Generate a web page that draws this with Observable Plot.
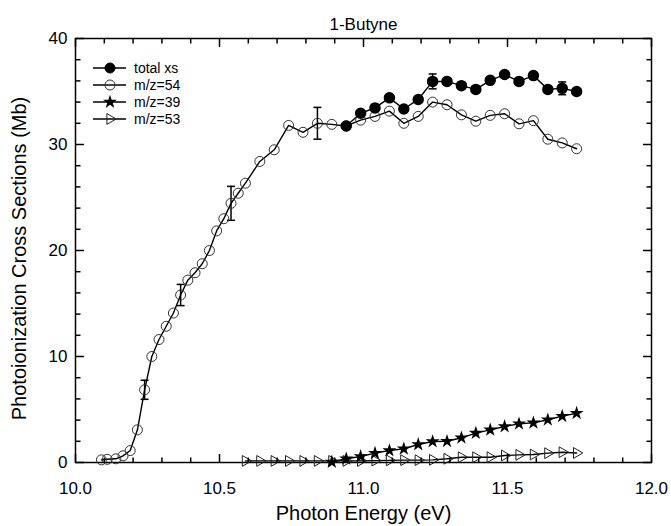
<!DOCTYPE html>
<html><head><meta charset="utf-8">
<script src="https://cdn.jsdelivr.net/npm/d3@7"></script>
<script src="https://cdn.jsdelivr.net/npm/@observablehq/plot@0.6"></script>
<style>body{margin:0;background:#fff;}</style>
</head><body><div id="chart"></div>
<script>
// ---- data ----
const energyMz54 = [10.09,10.11,10.14,10.165,10.19,10.215,10.24,10.265,10.29,10.315,10.34,10.365,10.39,10.415,10.44,10.465,10.49,10.515,10.54,10.565,10.59,10.64,10.69,10.74,10.79,10.84,10.89,10.94,10.99,11.04,11.09,11.14,11.19,11.24,11.29,11.34,11.39,11.44,11.49,11.54,11.59,11.64,11.69,11.74];
const valuesMz54 = [0.25,0.3,0.35,0.63,1.13,3.08,6.86,10.0,11.6,12.85,14.1,15.8,17.2,17.9,18.75,20.0,21.85,23.0,24.45,25.4,26.35,28.4,29.5,31.8,31.15,32.0,31.9,31.75,32.3,32.65,33.15,32.0,32.65,34.0,33.75,32.8,32.2,32.75,32.9,31.95,32.25,30.5,30.15,29.6];

const energyTotal = [10.94,10.99,11.04,11.09,11.14,11.19,11.24,11.29,11.34,11.39,11.44,11.49,11.54,11.59,11.64,11.69,11.74];
const valuesTotal = [31.75,32.95,33.45,34.4,33.35,34.25,35.95,35.95,35.55,35.2,36.05,36.6,35.95,36.5,35.2,35.3,35.0];

const energyMz39 = [10.89,10.94,10.99,11.04,11.09,11.14,11.19,11.24,11.29,11.34,11.39,11.44,11.49,11.54,11.59,11.64,11.69,11.74];
const valuesMz39 = [0.05,0.35,0.57,0.88,1.13,1.29,1.7,1.98,2.0,2.33,2.77,3.08,3.4,3.65,3.74,4.03,4.37,4.65];

const energyMz53 = [10.59,10.64,10.69,10.74,10.79,10.84,10.89,10.94,10.99,11.04,11.09,11.14,11.19,11.24,11.29,11.34,11.39,11.44,11.49,11.54,11.59,11.64,11.69,11.74];
const valuesMz53 = [0.15,0.15,0.15,0.15,0.15,0.15,0.15,0.15,0.15,0.18,0.2,0.22,0.22,0.25,0.35,0.5,0.5,0.5,0.66,0.72,0.75,0.88,0.97,0.9];

const errEnergyMz54 = [10.24,10.365,10.54,10.84];
const errValueMz54 = [6.86,15.8,24.45,32.0];
const errSizeMz54 = [0.9,1.0,1.6,1.5];
const errEnergyTotal = [11.24,11.69];
const errValueTotal = [35.95,35.3];
const errSizeTotal = [0.7,0.6];

const seriesNames = ["total xs","m/z=54","m/z=39","m/z=53"];
const xDomain = [10, 12];
const yDomain = [0, 40];
const xMajorTicks = [10.0,10.5,11.0,11.5,12.0];
const xMinorTicks = [10.1,10.2,10.3,10.4,10.6,10.7,10.8,10.9,11.1,11.2,11.3,11.4,11.6,11.7,11.8,11.9];
const yMajorTicks = [0,10,20,30,40];
const yMinorTicks = [2,4,6,8,12,14,16,18,22,24,26,28,32,34,36,38];
const titleText = "1-Butyne";
const xTitle = "Photon Energy (eV)";
const yTitle = "Photoionization Cross Sections (Mb)";

// ---- tables ----
const zip = (xs, ys) => xs.map((x, i) => ({x, y: ys[i]}));
const mz54 = zip(energyMz54, valuesMz54);
const total = zip(energyTotal, valuesTotal);
const mz39 = zip(energyMz39, valuesMz39);
const mz53 = zip(energyMz53, valuesMz53);
const errs = errEnergyMz54.map((x, i) => ({x, y1: errValueMz54[i] - errSizeMz54[i], y2: errValueMz54[i] + errSizeMz54[i]}))
  .concat(errEnergyTotal.map((x, i) => ({x, y1: errValueTotal[i] - errSizeTotal[i], y2: errValueTotal[i] + errSizeTotal[i]})));
const caps = errs.flatMap(d => [{x: d.x, y: d.y1}, {x: d.x, y: d.y2}]);

const hbar = {draw(ctx, size) { const w = 4; ctx.moveTo(-w, 0); ctx.lineTo(w, 0); }};
// tick glyphs: a short segment from the frame edge into the plot
const tickUp = len => ({draw(ctx) { ctx.moveTo(0, 0); ctx.lineTo(0, -len); }});
const tickDown = len => ({draw(ctx) { ctx.moveTo(0, 0); ctx.lineTo(0, len); }});
const tickRight = len => ({draw(ctx) { ctx.moveTo(0, 0); ctx.lineTo(len, 0); }});
const tickLeft = len => ({draw(ctx) { ctx.moveTo(0, 0); ctx.lineTo(-len, 0); }});

const FONT = "'Liberation Sans', Arial, Helvetica, sans-serif";
const lineW = 1.4;
const MAJ = 8.5, MIN = 5, TW = 1.5, TC = "#000";

function tickMarks(xs, ys, len) {
  const o = {stroke: TC, strokeWidth: TW, r: 4};
  return [
    Plot.dot(xs, {...o, x: d => d, y: () => yDomain[0], symbol: tickUp(len)}),
    Plot.dot(xs, {...o, x: d => d, y: () => yDomain[1], symbol: tickDown(len)}),
    Plot.dot(ys, {...o, y: d => d, x: () => xDomain[0], symbol: tickRight(len)}),
    Plot.dot(ys, {...o, y: d => d, x: () => xDomain[1], symbol: tickLeft(len)})
  ];
}

const chart = Plot.plot({
  width: 671,
  height: 526,
  marginLeft: 75,
  marginRight: 20,
  marginTop: 38,
  marginBottom: 64,
  style: {fontFamily: FONT, fontSize: "17px", color: "#000", background: "#fff"},
  x: {domain: xDomain},
  y: {domain: yDomain},
  marks: [
    Plot.axisX({ticks: xMajorTicks, tickSize: 0, tickPadding: 19, tickFormat: d3.format(".1f"), label: null, fontSize: 17}),
    Plot.axisY({ticks: yMajorTicks, tickSize: 0, tickPadding: 8, label: null, fontSize: 17}),
    Plot.frame({stroke: "#000", strokeWidth: 1.5}),
    // lines
    Plot.line(mz53, {x: "x", y: "y", stroke: "#000", strokeWidth: lineW}),
    Plot.line(mz39, {x: "x", y: "y", stroke: "#000", strokeWidth: lineW}),
    Plot.line(mz54, {x: "x", y: "y", stroke: "#000", strokeWidth: lineW}),
    Plot.line(total, {x: "x", y: "y", stroke: "#000", strokeWidth: lineW}),
    // error bars
    Plot.ruleX(errs, {x: "x", y1: "y1", y2: "y2", stroke: "#000", strokeWidth: 1.5}),
    Plot.dot(caps, {x: "x", y: "y", symbol: hbar, stroke: "#000", strokeWidth: 1.5, r: 4}),
    // markers
    Plot.dot(mz53, {x: "x", y: "y", symbol: "triangle", rotate: 90, r: 4, stroke: "#222", fill: "none", strokeWidth: 1}),
    Plot.dot(mz39, {x: "x", y: "y", symbol: "star", r: 4.4, fill: "#000", stroke: "none"}),
    Plot.dot(mz54, {x: "x", y: "y", symbol: "circle", r: 5, stroke: "#333", fill: "none", strokeWidth: 1}),
    Plot.dot(total, {x: "x", y: "y", symbol: "circle", r: 5, fill: "#000", stroke: "#000"}),
    // frame ticks (inward)
    ...tickMarks(xMajorTicks, yMajorTicks, MAJ),
    ...tickMarks(xMinorTicks, yMinorTicks, MIN),
    // titles
    Plot.text([titleText], {text: d => d, frameAnchor: "top", dy: -14, fontSize: 17, lineAnchor: "middle"}),
    Plot.text([xTitle], {text: d => d, frameAnchor: "bottom", dy: 51, fontSize: 20, lineAnchor: "middle"}),
    Plot.text([yTitle], {text: d => d, frameAnchor: "left", textAnchor: "middle", dx: -56, dy: 8, rotate: -90, fontSize: 20, lineAnchor: "middle"})
  ]
});

// legend
const svg = d3.select(chart);
const lg = svg.append("g").attr("font-family", FONT).attr("font-size", 14).attr("text-anchor", "start");
const legendSymbols = [
  {sym: d3.symbolCircle, size: Math.PI * 25, fill: "#000", stroke: "#000"},
  {sym: d3.symbolCircle, size: Math.PI * 25, fill: "none", stroke: "#333"},
  {sym: d3.symbolStar, size: Math.PI * 4.4 * 4.4, fill: "#000", stroke: "none"},
  {sym: d3.symbolTriangle, size: Math.PI * 16, fill: "none", stroke: "#222", rot: 90}
];
seriesNames.forEach((name, i) => {
  const y = 68 + i * 17;
  const g = lg.append("g").attr("transform", `translate(0,${y})`);
  g.append("line").attr("x1", 93).attr("x2", 126).attr("y1", 0).attr("y2", 0).attr("stroke", "#000").attr("stroke-width", lineW);
  const s = legendSymbols[i];
  g.append("path").attr("d", d3.symbol(s.sym, s.size)())
    .attr("transform", `translate(110,0)` + (s.rot ? ` rotate(${s.rot})` : ""))
    .attr("fill", s.fill).attr("stroke", s.stroke).attr("stroke-width", 1);
  g.append("text").attr("x", 134).attr("y", 0).attr("dy", "0.35em").attr("text-anchor", "start").text(name);
});

document.getElementById("chart").appendChild(chart);
</script>
</body></html>
